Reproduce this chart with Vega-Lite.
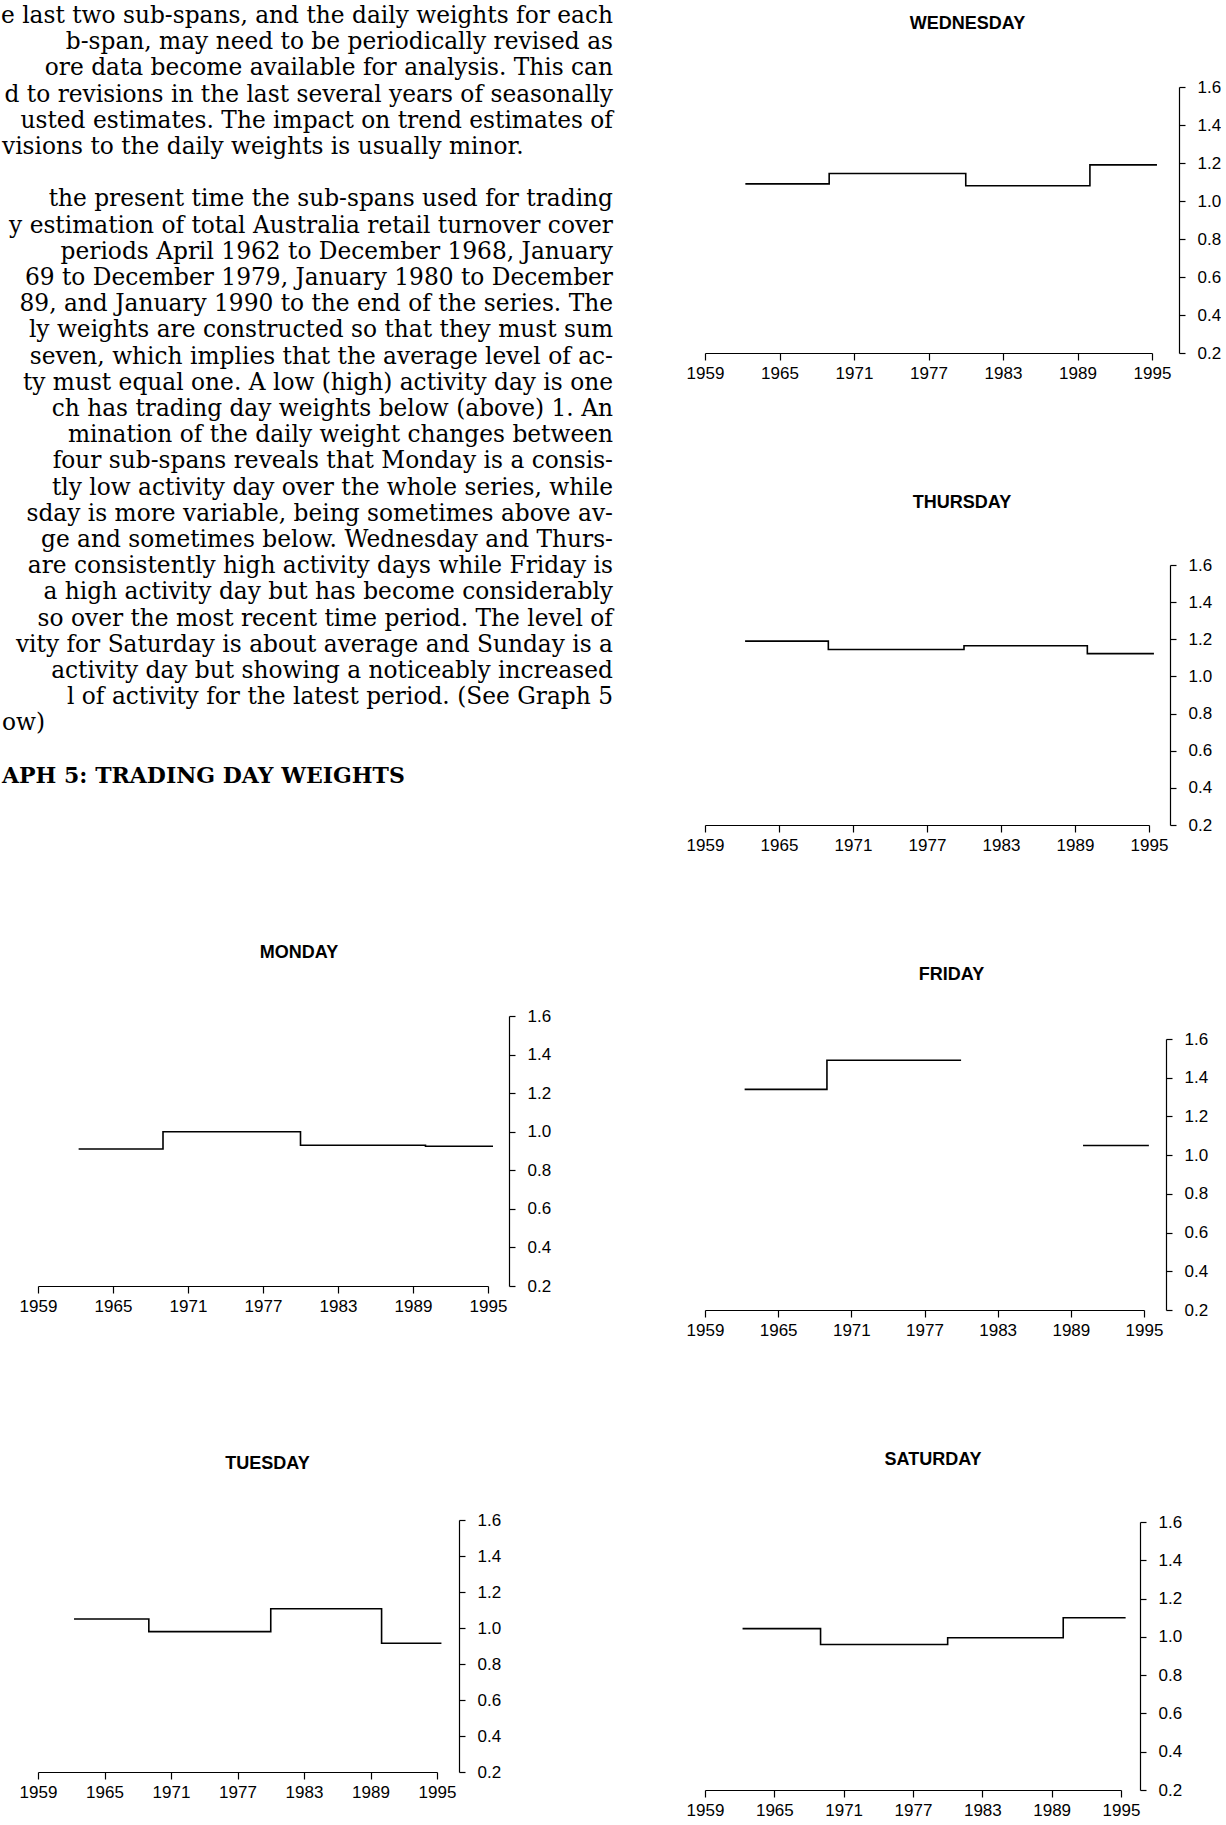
{
  "$schema": "https://vega.github.io/schema/vega-lite/v6.json",
  "background": "white",
  "padding": {"left": 0, "top": 0, "right": 0, "bottom": 0},
  "datasets": {
    "page": [
      {"line": 1, "kind": "body", "text": "e last two sub-spans, and the daily weights for each"},
      {"line": 2, "kind": "body", "text": "b-span, may need to be periodically revised as"},
      {"line": 3, "kind": "body", "text": "ore data become available for analysis. This can"},
      {"line": 4, "kind": "body", "text": "d to revisions in the last several years of seasonally"},
      {"line": 5, "kind": "body", "text": "usted estimates. The impact on trend estimates of"},
      {"line": 6, "kind": "end", "text": "visions to the daily weights is usually minor."},
      {"line": 8, "kind": "body", "text": "the present time the sub-spans used for trading"},
      {"line": 9, "kind": "body", "text": "y estimation of total Australia retail turnover cover"},
      {"line": 10, "kind": "body", "text": "periods April 1962 to December 1968, January"},
      {"line": 11, "kind": "body", "text": "69 to December 1979, January 1980 to December"},
      {"line": 12, "kind": "body", "text": "89, and January 1990 to the end of the series. The"},
      {"line": 13, "kind": "body", "text": "ly weights are constructed so that they must sum"},
      {"line": 14, "kind": "body", "text": "seven, which implies that the average level of ac-"},
      {"line": 15, "kind": "body", "text": "ty must equal one. A low (high) activity day is one"},
      {"line": 16, "kind": "body", "text": "ch has trading day weights below (above) 1. An"},
      {"line": 17, "kind": "body", "text": "mination of the daily weight changes between"},
      {"line": 18, "kind": "body", "text": "four sub-spans reveals that Monday is a consis-"},
      {"line": 19, "kind": "body", "text": "tly low activity day over the whole series, while"},
      {"line": 20, "kind": "body", "text": "sday is more variable, being sometimes above av-"},
      {"line": 21, "kind": "body", "text": "ge and sometimes below. Wednesday and Thurs-"},
      {"line": 22, "kind": "body", "text": "are consistently high activity days while Friday is"},
      {"line": 23, "kind": "body", "text": "a high activity day but has become considerably"},
      {"line": 24, "kind": "body", "text": "so over the most recent time period. The level of"},
      {"line": 25, "kind": "body", "text": "vity for Saturday is about average and Sunday is a"},
      {"line": 26, "kind": "body", "text": "activity day but showing a noticeably increased"},
      {"line": 27, "kind": "body", "text": "l of activity for the latest period. (See Graph 5"},
      {"line": 28, "kind": "end", "text": "ow)"},
      {"line": 30, "kind": "heading", "text": "APH 5: TRADING DAY WEIGHTS"}
    ],
    "weights": [
      {"day": "Monday", "seg": 1, "year": 1962.25, "weight": 0.91},
      {"day": "Monday", "seg": 1, "year": 1969, "weight": 1.0},
      {"day": "Monday", "seg": 1, "year": 1980, "weight": 0.93},
      {"day": "Monday", "seg": 1, "year": 1990, "weight": 0.925},
      {"day": "Monday", "seg": 1, "year": 1995.4, "weight": 0.925},
      {"day": "Tuesday", "seg": 1, "year": 1962.25, "weight": 1.05},
      {"day": "Tuesday", "seg": 1, "year": 1969, "weight": 0.98},
      {"day": "Tuesday", "seg": 1, "year": 1980, "weight": 1.107},
      {"day": "Tuesday", "seg": 1, "year": 1990, "weight": 0.915},
      {"day": "Tuesday", "seg": 1, "year": 1995.4, "weight": 0.915},
      {"day": "Wednesday", "seg": 1, "year": 1962.25, "weight": 1.09},
      {"day": "Wednesday", "seg": 1, "year": 1969, "weight": 1.145},
      {"day": "Wednesday", "seg": 1, "year": 1980, "weight": 1.08},
      {"day": "Wednesday", "seg": 1, "year": 1990, "weight": 1.19},
      {"day": "Wednesday", "seg": 1, "year": 1995.4, "weight": 1.19},
      {"day": "Thursday", "seg": 1, "year": 1962.25, "weight": 1.19},
      {"day": "Thursday", "seg": 1, "year": 1969, "weight": 1.145},
      {"day": "Thursday", "seg": 1, "year": 1980, "weight": 1.165},
      {"day": "Thursday", "seg": 1, "year": 1990, "weight": 1.123},
      {"day": "Thursday", "seg": 1, "year": 1995.4, "weight": 1.123},
      {"day": "Friday", "seg": 1, "year": 1962.25, "weight": 1.34},
      {"day": "Friday", "seg": 1, "year": 1969, "weight": 1.49},
      {"day": "Friday", "seg": 1, "year": 1980, "weight": 1.49},
      {"day": "Friday", "seg": 2, "year": 1990, "weight": 1.05},
      {"day": "Friday", "seg": 2, "year": 1995.4, "weight": 1.05},
      {"day": "Saturday", "seg": 1, "year": 1962.25, "weight": 1.043},
      {"day": "Saturday", "seg": 1, "year": 1969, "weight": 0.96},
      {"day": "Saturday", "seg": 1, "year": 1980, "weight": 0.995},
      {"day": "Saturday", "seg": 1, "year": 1990, "weight": 1.1},
      {"day": "Saturday", "seg": 1, "year": 1995.4, "weight": 1.1}
    ]
  },
  "spacing": 73,
  "hconcat": [
    {
      "spacing": 141,
      "vconcat": [
        {
          "width": 575,
          "height": 716,
          "data": {"name": "page"},
          "encoding": {
            "y": {"field": "line", "type": "quantitative", "scale": {"domain": [3.71, 31.038], "reverse": true, "nice": false, "zero": false}, "axis": null},
            "text": {"field": "text"}
          },
          "layer": [
            {
              "transform": [{"filter": {"field": "kind", "equal": "body"}}],
              "mark": {"type": "text", "align": "right", "baseline": "middle", "font": "DejaVu Serif", "fontSize": 23.3, "color": "black"},
              "encoding": {"x": {"datum": 1, "type": "quantitative", "scale": {"domain": [0, 1]}, "axis": null}}
            },
            {
              "transform": [{"filter": {"field": "kind", "equal": "end"}}],
              "mark": {"type": "text", "align": "left", "baseline": "middle", "font": "DejaVu Serif", "fontSize": 23.3, "color": "black", "dx": -36},
              "encoding": {"x": {"datum": 0, "type": "quantitative", "scale": {"domain": [0, 1]}, "axis": null}}
            },
            {
              "transform": [{"filter": {"field": "kind", "equal": "heading"}}],
              "mark": {"type": "text", "align": "left", "baseline": "middle", "font": "DejaVu Serif", "fontSize": 22, "fontWeight": "bold", "color": "black", "dx": -36},
              "encoding": {"x": {"datum": 0, "type": "quantitative", "scale": {"domain": [0, 1]}, "axis": null}}
            }
          ]
        },
        {
          "width": 450, "height": 270,
          "title": {"text": "MONDAY", "dx": 36, "offset": 45},
          "data": {"name": "weights"},
          "transform": [{"filter": {"field": "day", "equal": "Monday"}}],
          "mark": {"type": "line", "interpolate": "step-after", "color": "black", "strokeWidth": 1.6},
          "encoding": {
            "x": {"field": "year", "type": "quantitative", "scale": {"domain": [1959, 1995], "nice": false, "zero": false}, "axis": {"values": [1959, 1965, 1971, 1977, 1983, 1989, 1995], "format": "d", "title": null}},
            "y": {"field": "weight", "type": "quantitative", "scale": {"domain": [0.2, 1.6], "nice": false, "zero": false}, "axis": {"orient": "right", "values": [0.2, 0.4, 0.6, 0.8, 1.0, 1.2, 1.4, 1.6], "format": ".1f", "title": null, "offset": 21}},
            "detail": {"field": "seg", "type": "nominal"}
          }
        },
        {
          "width": 399, "height": 252,
          "title": {"text": "TUESDAY", "dx": 30, "offset": 38},
          "data": {"name": "weights"},
          "transform": [{"filter": {"field": "day", "equal": "Tuesday"}}],
          "mark": {"type": "line", "interpolate": "step-after", "color": "black", "strokeWidth": 1.6},
          "encoding": {
            "x": {"field": "year", "type": "quantitative", "scale": {"domain": [1959, 1995], "nice": false, "zero": false}, "axis": {"values": [1959, 1965, 1971, 1977, 1983, 1989, 1995], "format": "d", "title": null}},
            "y": {"field": "weight", "type": "quantitative", "scale": {"domain": [0.2, 1.6], "nice": false, "zero": false}, "axis": {"orient": "right", "values": [0.2, 0.4, 0.6, 0.8, 1.0, 1.2, 1.4, 1.6], "format": ".1f", "title": null, "offset": 22}},
            "detail": {"field": "seg", "type": "nominal"}
          }
        }
      ]
    },
    {
      "spacing": 113,
      "vconcat": [
        {
          "width": 447, "height": 266,
          "title": {"text": ["", "WEDNESDAY"], "lineHeight": 15, "dx": 39, "offset": 45},
          "data": {"name": "weights"},
          "transform": [{"filter": {"field": "day", "equal": "Wednesday"}}],
          "mark": {"type": "line", "interpolate": "step-after", "color": "black", "strokeWidth": 1.6},
          "encoding": {
            "x": {"field": "year", "type": "quantitative", "scale": {"domain": [1959, 1995], "nice": false, "zero": false}, "axis": {"values": [1959, 1965, 1971, 1977, 1983, 1989, 1995], "format": "d", "title": null}},
            "y": {"field": "weight", "type": "quantitative", "scale": {"domain": [0.2, 1.6], "nice": false, "zero": false}, "axis": {"orient": "right", "values": [0.2, 0.4, 0.6, 0.8, 1.0, 1.2, 1.4, 1.6], "format": ".1f", "title": null, "offset": 27}},
            "detail": {"field": "seg", "type": "nominal"}
          }
        },
        {
          "width": 444, "height": 260,
          "title": {"text": "THURSDAY", "dx": 35, "offset": 44},
          "data": {"name": "weights"},
          "transform": [{"filter": {"field": "day", "equal": "Thursday"}}],
          "mark": {"type": "line", "interpolate": "step-after", "color": "black", "strokeWidth": 1.6},
          "encoding": {
            "x": {"field": "year", "type": "quantitative", "scale": {"domain": [1959, 1995], "nice": false, "zero": false}, "axis": {"values": [1959, 1965, 1971, 1977, 1983, 1989, 1995], "format": "d", "title": null}},
            "y": {"field": "weight", "type": "quantitative", "scale": {"domain": [0.2, 1.6], "nice": false, "zero": false}, "axis": {"orient": "right", "values": [0.2, 0.4, 0.6, 0.8, 1.0, 1.2, 1.4, 1.6], "format": ".1f", "title": null, "offset": 21}},
            "detail": {"field": "seg", "type": "nominal"}
          }
        },
        {
          "width": 439, "height": 271,
          "title": {"text": "FRIDAY", "dx": 27, "offset": 46},
          "data": {"name": "weights"},
          "transform": [{"filter": {"field": "day", "equal": "Friday"}}],
          "mark": {"type": "line", "interpolate": "step-after", "color": "black", "strokeWidth": 1.6},
          "encoding": {
            "x": {"field": "year", "type": "quantitative", "scale": {"domain": [1959, 1995], "nice": false, "zero": false}, "axis": {"values": [1959, 1965, 1971, 1977, 1983, 1989, 1995], "format": "d", "title": null}},
            "y": {"field": "weight", "type": "quantitative", "scale": {"domain": [0.2, 1.6], "nice": false, "zero": false}, "axis": {"orient": "right", "values": [0.2, 0.4, 0.6, 0.8, 1.0, 1.2, 1.4, 1.6], "format": ".1f", "title": null, "offset": 22}},
            "detail": {"field": "seg", "type": "nominal"}
          }
        },
        {
          "width": 416, "height": 268,
          "title": {"text": "SATURDAY", "dx": 20, "offset": 44},
          "data": {"name": "weights"},
          "transform": [{"filter": {"field": "day", "equal": "Saturday"}}],
          "mark": {"type": "line", "interpolate": "step-after", "color": "black", "strokeWidth": 1.6},
          "encoding": {
            "x": {"field": "year", "type": "quantitative", "scale": {"domain": [1959, 1995], "nice": false, "zero": false}, "axis": {"values": [1959, 1965, 1971, 1977, 1983, 1989, 1995], "format": "d", "title": null}},
            "y": {"field": "weight", "type": "quantitative", "scale": {"domain": [0.2, 1.6], "nice": false, "zero": false}, "axis": {"orient": "right", "values": [0.2, 0.4, 0.6, 0.8, 1.0, 1.2, 1.4, 1.6], "format": ".1f", "title": null, "offset": 19}},
            "detail": {"field": "seg", "type": "nominal"}
          }
        }
      ]
    }
  ],
  "config": {
    "view": {"stroke": null},
    "axis": {"domainColor": "black", "tickColor": "black", "labelColor": "black", "labelFont": "Liberation Sans", "labelFontSize": 17, "grid": false, "domainWidth": 1.2, "tickWidth": 1.2, "labelOverlap": false, "labelFlush": false},
    "axisX": {"tickSize": 7, "labelPadding": 5},
    "axisY": {"tickSize": 6, "labelPadding": 12},
    "title": {"font": "Liberation Sans", "fontSize": 18, "fontWeight": "bold", "color": "black", "anchor": "middle", "frame": "group"}
  }
}
